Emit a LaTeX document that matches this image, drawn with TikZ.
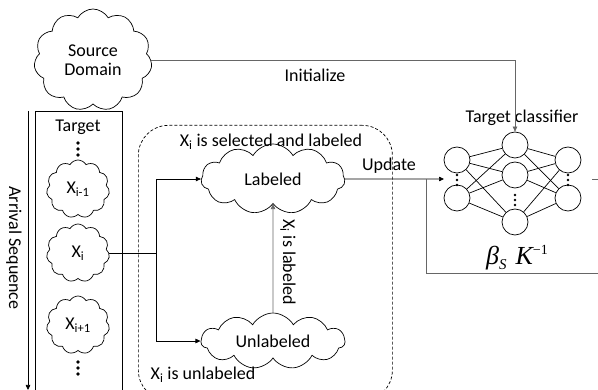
\documentclass[tikz,border=0pt]{standalone}
\usepackage{fontspec}
\setmainfont{Carlito}
\newfontfamily\libserif{Liberation Serif}
\usetikzlibrary{shapes.symbols,arrows.meta}

\begin{document}
\begin{tikzpicture}[x=1pt,y=-1pt,
  font=\fontsize{18}{21}\selectfont,
  line width=0.7pt,
  puff/.style={cloud, draw, cloud puffs=11, cloud puff arc=120,
               cloud ignores aspect, inner sep=0pt, align=center},
  neuron/.style={circle, draw, minimum size=26pt, inner sep=0pt},
  arr/.style={-{Triangle[length=5pt,width=4.5pt]}},
  soft/.style={draw=black!60},
  dot/.style={fill=black}]
\useasboundingbox (0,0) rectangle (598,390);
\clip (0,0) rectangle (598,390);

% source domain
\node[puff, minimum width=118pt, minimum height=102pt] (src) at (93,60) {Source\\[-2pt]Domain};

% target stream column
\node[draw, minimum width=87pt, minimum height=300pt, anchor=north west] (col) at (35,111) {};
\coordinate (arrTop) at (28,111);
\coordinate (arrEnd) at (28,390);
\draw[arr] (arrTop) -- (arrEnd);
\node[rotate=-90] (arrlbl) at (14,248) {Arrival Sequence};
\node (tgt) at (78,127) {Target};
\foreach \y in {143,149,155} \fill[dot] (78,\y) circle (1.8pt);
\foreach \y in {362,368,374} \fill[dot] (78,\y) circle (1.8pt);
\node[puff, minimum width=63pt, minimum height=58pt] (xa) at (78,189) {X\textsubscript{i-1}};
\node[puff, minimum width=63pt, minimum height=58pt] (xb) at (78,253) {X\textsubscript{i}};
\node[puff, minimum width=63pt, minimum height=58pt] (xc) at (78,325) {X\textsubscript{i+1}};

% selection pool
\node[draw, dashed, dash pattern=on 3pt off 2pt, rounded corners=30pt,
      minimum width=254pt, minimum height=275pt, anchor=north west] (pool) at (138,125) {};
\node (sel) at (271,142) {X\textsubscript{i} is selected and labeled};
\node (unlt) at (203,375) {X\textsubscript{i} is unlabeled};
\node[puff, minimum width=144pt, minimum height=70pt] (lab) at (273,179) {Labeled};
\node[puff, minimum width=144pt, minimum height=56pt] (unl) at (273,341) {Unlabeled};

\draw (xb.east) -- ++(47,0) coordinate (split);
\draw[arr] (split) |- (lab.west);
\draw[arr] (split) |- (unl.west);
\draw[arr, soft] (unl.north) -- (lab.south);
\node[rotate=-90] (lbl) at (288,262) {X\textsubscript{i} is labeled};

% target classifier network
\node[neuron] (l1a) at (457,160) {};
\node[neuron] (l1b) at (457,198) {};
\node[neuron] (l2a) at (515,145) {};
\node[neuron] (l2b) at (515,175) {};
\node[neuron] (l2c) at (515,222) {};
\node[neuron] (l3a) at (568,160) {};
\node[neuron] (l3b) at (568,198) {};
\foreach \i in {l1a,l1b} \foreach \j in {l2a,l2b,l2c} \draw (\i) -- (\j);
\foreach \i in {l2a,l2b,l2c} \foreach \j in {l3a,l3b} \draw (\i) -- (\j);
\foreach \y in {175,180,185} {\fill[dot] (457,\y) circle (1.3pt); \fill[dot] (568,\y) circle (1.3pt);}
\foreach \y in {195,200,205} \fill[dot] (515,\y) circle (1.3pt);
\node (tc) at (522,118) {Target classifier};

% initialize and update
\draw[arr, soft] (src.east) -| (l2a.north);
\node (init) at (315,75) {Initialize};
\coordinate (nnin) at (444,179);
\draw[arr] (lab.east) -- (nnin);
\node (upd) at (389,166) {Update};

% output and feedback loop
\coordinate (outA) at (592,179);
\coordinate (outB) at (598,179);
\draw[soft] (outA) -- (outB);
\coordinate (fbR) at (598,273);
\coordinate (fbJ) at (426,179);
\draw[soft] (fbR) -| (fbJ);
\node (beta) at (517,258) {\libserif\fontsize{26}{28}\selectfont\itshape
  β\raisebox{-5pt}{\fontsize{15}{15}\selectfont S}\hspace{9pt}K\raisebox{10pt}{\upshape\fontsize{14}{14}\selectfont −1}};
\end{tikzpicture}
\end{document}
